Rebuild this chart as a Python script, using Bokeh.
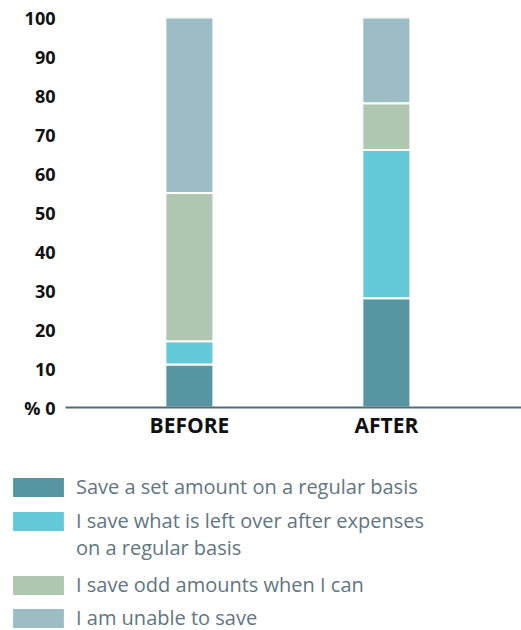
from bokeh.plotting import figure
from bokeh.models import (ColumnDataSource, Range1d, FixedTicker,
                          Legend, LegendItem)
from bokeh.layouts import column
from bokeh.embed import file_html
from bokeh.resources import INLINE

# ---- data ----
categories = ["BEFORE", "AFTER"]
series_names = ["regular", "leftover", "odd", "unable"]
regular = [11, 28]
leftover = [6, 38]
odd = [38, 12]
unable = [45, 22]
legend_labels = [
    "Save a set amount on a regular basis",
    "I save what is left over after expenses",
    "on a regular basis",
    "I save odd amounts when I can",
    "I am unable to save",
]
y_ticks = [0, 10, 20, 30, 40, 50, 60, 70, 80, 90, 100]
y_tick_labels = {0: "% 0"}

colors = ["#5596a2", "#63c8d8", "#afc6b0", "#9dbdc6"]
AXIS_COLOR = "#536b7b"
LEGEND_TEXT = "#607682"
FONT = "Open Sans"

xpos = list(range(len(categories)))
source = ColumnDataSource(dict(x=xpos, regular=regular, leftover=leftover,
                               odd=odd, unable=unable))

H1 = 445
p = figure(x_range=Range1d(-0.629, 1.686), y_range=Range1d(0, 100),
           width=521, height=H1, output_backend="svg", toolbar_location=None,
           min_border_top=17, min_border_bottom=H1 - 407, min_border_left=65,
           min_border_right=0)

p.vbar_stack(series_names, x="x", width=0.244, color=colors,
             source=source, line_color="white", line_width=2)

p.outline_line_color = None
p.grid.grid_line_color = None

p.yaxis.ticker = FixedTicker(ticks=y_ticks)
p.yaxis.major_label_overrides = y_tick_labels
p.yaxis.axis_line_color = None
p.yaxis.major_tick_line_color = None
p.yaxis.minor_tick_line_color = None
p.yaxis.major_tick_out = 0
p.yaxis.major_label_standoff = 10
p.yaxis.major_label_text_font = FONT
p.yaxis.major_label_text_font_style = "bold"
p.yaxis.major_label_text_font_size = "18px"
p.yaxis.major_label_text_color = "#111111"

p.xaxis.ticker = FixedTicker(ticks=xpos)
p.xaxis.major_label_overrides = {i: c for i, c in zip(xpos, categories)}
p.xaxis.axis_line_color = AXIS_COLOR
p.xaxis.axis_line_width = 2
p.xaxis.major_tick_line_color = None
p.xaxis.minor_tick_line_color = None
p.xaxis.major_tick_out = 0
p.xaxis.major_label_standoff = 3
p.xaxis.major_label_text_font = FONT
p.xaxis.major_label_text_font_style = "bold"
p.xaxis.major_label_text_font_size = "21px"
p.xaxis.major_label_text_color = "#111111"

# ---- legend panel (its renderers lie outside the visible range) ----
H2 = 630 - H1
p2 = figure(width=521, height=H2, output_backend="svg",
            toolbar_location=None, x_range=Range1d(5, 6),
            y_range=Range1d(500, 501), x_axis_type=None, y_axis_type=None,
            min_border=0)
p2.frame_align = False
p2.outline_line_color = None
p2.background_fill_color = None
p2.border_fill_color = None
p2.grid.grid_line_color = None

legend_renderers = [
    p2.vbar(x="x", top=s, width=0.2, source=source, fill_color=c,
            line_color="white", line_width=2)
    for s, c in zip(series_names, colors)
]
blank = p2.vbar(x="x", top="regular", width=0.2, source=source,
                fill_alpha=0, line_alpha=0)

groups = [
    ([0], [legend_renderers[0]], 0, (5, 130)),
    ([1, 2], [legend_renderers[1], blank], 0, (5, 69)),
    ([3, 4], [legend_renderers[2], legend_renderers[3]], 6, (5, -1)),
]
for idx, rends, spacing, loc in groups:
    items = [LegendItem(label=legend_labels[i], renderers=[r])
             for i, r in zip(idx, rends)]
    lg = Legend(items=items, location=loc, margin=0, padding=0,
                spacing=spacing, glyph_width=66, glyph_height=26,
                label_standoff=5, label_text_font=FONT,
                label_text_font_size="20px", label_text_color=LEGEND_TEXT,
                border_line_color=None, background_fill_alpha=0)
    p2.add_layout(lg)

open("out.html", "w").write(file_html(column(p, p2, spacing=0), INLINE))
